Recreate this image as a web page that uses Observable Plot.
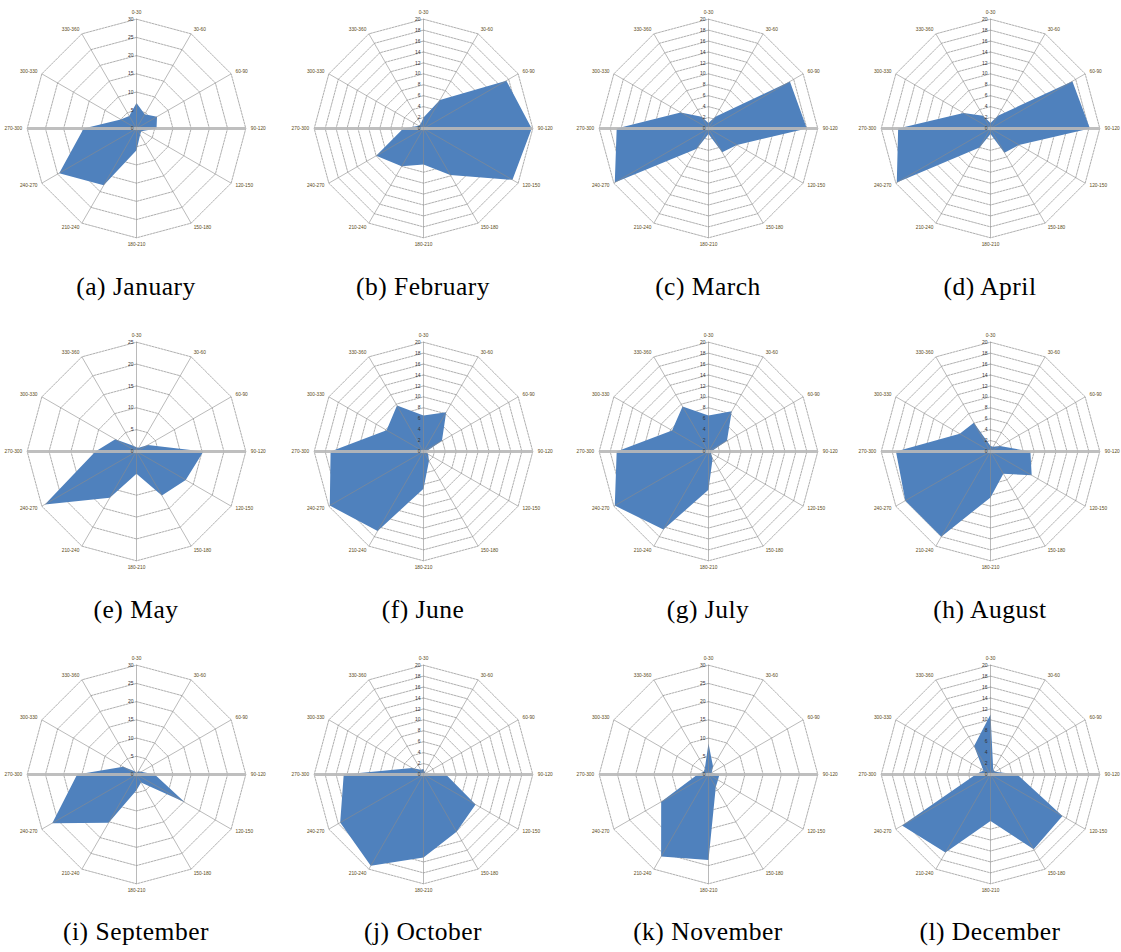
<!DOCTYPE html>
<html><head><meta charset="utf-8">
<script src="https://cdn.jsdelivr.net/npm/d3@7"></script>
<script src="https://cdn.jsdelivr.net/npm/@observablehq/plot@0.6"></script>
<style>
body{margin:0;background:#fff;}
#root{position:relative;width:1121px;height:952px;overflow:hidden;background:#fff;}
.panel{position:absolute;width:280px;height:260px;}
.panel svg{overflow:visible;max-width:none !important;width:280px;height:260px;}
.cap{position:absolute;width:260px;text-align:center;font-family:"Liberation Serif",serif;font-size:25.5px;letter-spacing:0.5px;color:#000;line-height:30px;white-space:nowrap;}
</style></head><body><div id="root"></div>
<script>
// ---- data ----
const sectors = ["0-30","30-60","60-90","90-120","120-150","150-180","180-210","210-240","240-270","270-300","300-330","330-360"];
const monthNames = ["January","February","March","April","May","June","July","August","September","October","November","December"];
const letters = ["a","b","c","d","e","f","g","h","i","j","k","l"];
const january   = [7, 4.5, 6.5, 5.5, 1.5, 2, 6, 18, 24.5, 14.5, 5, 4];
const february  = [2, 6, 17.5, 19.8, 18.8, 9.8, 6.6, 8, 10, 3.7, 1, 1];
const march     = [1, 2.5, 17.2, 18, 6, 5, 1, 4.3, 19.8, 16.8, 5.9, 2.5];
const april     = [1, 2.7, 17.3, 18.2, 6, 5.1, 1, 4, 19.8, 16.9, 5.7, 2.7];
const may       = [1, 1, 3, 15.3, 13, 11.6, 5.1, 12.2, 24.2, 9.4, 5.6, 1.5];
const june      = [6.6, 8.3, 3.9, 0.5, 1, 2, 6.8, 16.8, 19.8, 17, 7.8, 9.7];
const july      = [6.6, 8.5, 3.9, 0.5, 0.5, 1.5, 7, 16.5, 19.8, 16.8, 7.7, 9.5];
const august    = [1, 1, 2, 7.3, 8.7, 4.7, 8.4, 18, 18, 17.3, 6.5, 6.1];
const september = [0.5, 1, 1.5, 5, 15.3, 2.5, 4.3, 15.3, 26.7, 16.3, 4.2, 1];
const october   = [1, 0.5, 0.5, 4.1, 11, 12.1, 15.2, 19.3, 17.6, 14.6, 2.4, 1];
const november  = [8.5, 2.5, 1, 3, 3, 4, 23.5, 26, 15, 3, 1.5, 2];
const december  = [11, 1, 1, 4.9, 15.2, 15.8, 8.5, 16.5, 18.7, 2.7, 1.5, 6];
const seriesValues = [january,february,march,april,may,june,july,august,september,october,november,december];
const scaleMax  = [30,20,20,20,25,20,20,20,30,20,30,20];
const scaleStep = [5,2,2,2,5,2,2,2,5,2,5,2];

// ---- layout ----
const colCenters = [136, 423, 708, 990];
const rowCenters = [128, 451, 774];
const capY = [287, 610, 932];
const W = 280, H = 260, R = 109.3;
const root = document.getElementById("root");
const ang = k => k * Math.PI / 6;
const labelFont = "Liberation Sans, Arial, sans-serif";

seriesValues.forEach((values, i) => {
  const max = scaleMax[i], step = scaleStep[i];
  const ticks = d3.range(0, max + step / 2, step);
  const pts = sectors.map((s, k) => ({k, s, v: values[k]}));
  const rings = ticks.slice(1).flatMap(t => d3.range(13).map(k => ({t, k: k % 12})));
  const spokes = sectors.map((s, k) => ({k, s}));
  const lr = max * (1 + 5 / R);
  const lrv = max * (1 + 7 / R);
  const px = (r, k) => r * Math.sin(ang(k));
  const py = (r, k) => r * Math.cos(ang(k));
  const chart = Plot.plot({
    width: W, height: H,
    marginLeft: W / 2 - R, marginRight: W / 2 - R,
    marginTop: H / 2 - R, marginBottom: H / 2 - R,
    x: {domain: [-max, max], axis: null},
    y: {domain: [-max, max], axis: null},
    style: {background: "transparent", overflow: "visible"},
    marks: [
      Plot.line(rings, {x: d => px(d.t, d.k), y: d => py(d.t, d.k), z: "t", stroke: "#9a9a9a", strokeWidth: 0.8, strokeDasharray: "2,1.2"}),
      Plot.line(pts, {x: d => px(d.v, d.k), y: d => py(d.v, d.k), curve: "linear-closed", fill: "#4f81bd", stroke: "none"}),
      Plot.link(spokes.filter(d => d.k % 6 !== 3), {x1: () => 0, y1: () => 0, x2: d => px(max, d.k), y2: d => py(max, d.k), stroke: "#8c8c8c", strokeOpacity: 0.75, strokeWidth: 0.8}),
      Plot.link(spokes.filter(d => d.k % 6 === 3), {x1: () => 0, y1: () => 0, x2: d => px(max, d.k), y2: d => py(max, d.k), stroke: "#b8b8b8", strokeOpacity: 0.9, strokeWidth: 2.8}),
      Plot.text(ticks, {x: () => 0, y: d => d, text: d => String(d), textAnchor: "end", dx: -3, fontSize: 5, fontFamily: labelFont, fill: "#333"}),
      Plot.text(spokes.filter(d => d.k % 6 === 0), {x: d => px(lrv, d.k), y: d => py(lrv, d.k), text: "s", textAnchor: "middle", fontSize: 4.8, fontFamily: labelFont, fill: "#5a4a20"}),
      Plot.text(spokes.filter(d => d.k > 0 && d.k < 6), {x: d => px(lr, d.k), y: d => py(lr, d.k), text: "s", textAnchor: "start", fontSize: 4.8, fontFamily: labelFont, fill: "#5a4a20"}),
      Plot.text(spokes.filter(d => d.k > 6), {x: d => px(lr, d.k), y: d => py(lr, d.k), text: "s", textAnchor: "end", fontSize: 4.8, fontFamily: labelFont, fill: "#5a4a20"})
    ]
  });
  const col = i % 4, row = Math.floor(i / 4);
  const div = document.createElement("div");
  div.className = "panel";
  div.style.left = (colCenters[col] - W / 2) + "px";
  div.style.top = (rowCenters[row] - H / 2) + "px";
  div.appendChild(chart);
  root.appendChild(div);
  const cap = document.createElement("div");
  cap.className = "cap";
  cap.textContent = `(${letters[i]}) ${monthNames[i]}`;
  cap.style.left = (colCenters[col] - 130) + "px";
  cap.style.top = (capY[row] - 15) + "px";
  root.appendChild(cap);
});
</script></body></html>
